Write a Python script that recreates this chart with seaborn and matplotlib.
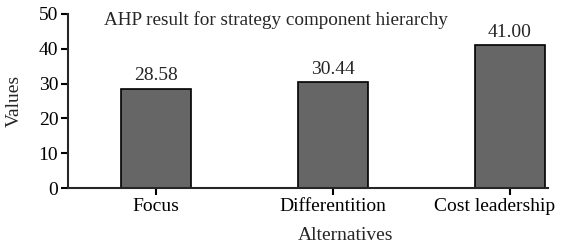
import seaborn as sns
import matplotlib.pyplot as plt
import matplotlib.transforms as mtransforms
import pandas as pd

categories = ["Focus", "Differentition", "Cost leadership"]
values = [28.58, 30.44, 41.00]
labels = ["28.58", "30.44", "41.00"]

df = pd.DataFrame({"Alternatives": categories, "Values": values})

sns.set_style("ticks")
plt.rcParams["font.family"] = ["Liberation Serif", "DejaVu Serif"]

fig = plt.figure(figsize=(5.61, 2.45), dpi=100)
ax = fig.add_axes([68 / 561, 1 - 188 / 245, 480 / 561, 174 / 245])

sns.barplot(x="Alternatives", y="Values", data=df, color="#666666",
            width=0.4, edgecolor="black", linewidth=1.2, saturation=1, ax=ax)

for i, v in enumerate(values):
    ax.annotate(labels[i], (i, v), xytext=(0, 3), textcoords="offset points",
                ha="center", va="bottom", fontsize=14)

ax.set_xlim(-0.497, 2.215)
ax.set_ylim(0, 50)
ax.set_yticks([0, 10, 20, 30, 40, 50])
sns.despine(ax=ax)
ax.spines["left"].set_linewidth(1.5)
ax.spines["bottom"].set_linewidth(1.5)
ax.tick_params(axis="both", direction="out", length=5, width=1.5,
               labelsize=14, colors="black", pad=2)

# last tick label is pushed left so it fits in the figure
last = ax.get_xticklabels()[-1]
last.set_transform(last.get_transform() +
                   mtransforms.ScaledTranslation(-0.15, 0, fig.dpi_scale_trans))

ax.text(0.433, 0.965, "AHP result for strategy component hierarchy",
        transform=ax.transAxes, ha="center", va="center", fontsize=13.8)

ax.set_xlabel("Alternatives", fontsize=14)
ax.xaxis.set_label_coords(0.579, -0.225)
ax.set_ylabel("Values", fontsize=14)
ax.yaxis.set_label_coords(-0.094, 0.5)

plt.savefig("out.png", dpi=100)
plt.close()
